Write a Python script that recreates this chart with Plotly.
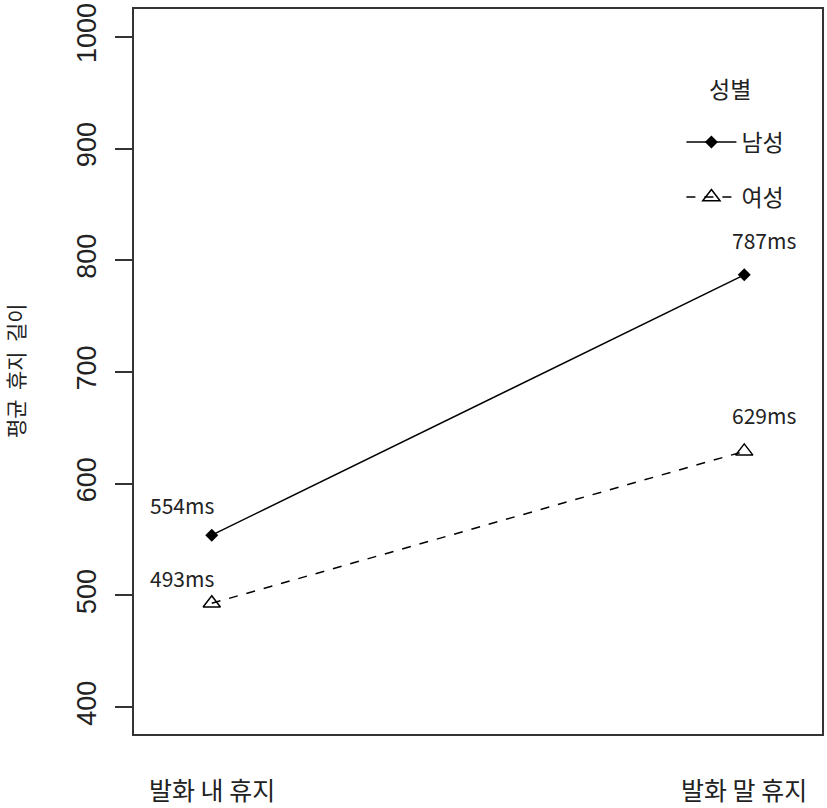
import plotly.graph_objects as go

categories = ["발화 내 휴지", "발화 말 휴지"]
groups = ["남성", "여성"]
legend_title = "성별"
y_title = "평균  휴지  길이"
male = [554, 787]
female = [493, 629]
male_labels = ["554ms", "787ms"]
female_labels = ["493ms", "629ms"]
yticks = [400, 500, 600, 700, 800, 900, 1000]

xpos = [1, 2]
KR = "Noto Sans CJK KR"
NUM = "Liberation Sans"

fig = go.Figure()
fig.add_trace(go.Scatter(
    x=xpos, y=male, mode="lines+markers", name=groups[0], legendgroup="m",
    line=dict(color="black", width=1.5, dash="solid"),
    marker=dict(symbol="diamond", size=10, color="black"),
))
fig.add_trace(go.Scatter(
    x=xpos, y=female, mode="lines+markers", name=groups[1], legendgroup="f",
    line=dict(color="black", width=1.5, dash="dash"),
    marker=dict(symbol="triangle-up-open", size=15, color="black", line=dict(width=1.5)),
))

ann = []
for xi, yv, t in zip(xpos, male, male_labels):
    ann.append(dict(x=xi - 0.056 if xi == 1 else xi + 0.038, y=yv + 27 if xi == 1 else yv + 31,
                    text=t, showarrow=False, font=dict(family=KR, size=21, color="#222")))
for xi, yv, t in zip(xpos, female, female_labels):
    ann.append(dict(x=xi - 0.056 if xi == 1 else xi + 0.038, y=yv + 33 if xi == 2 else yv + 23,
                    text=t, showarrow=False, font=dict(family=KR, size=21, color="#222")))
for xi, c in zip(xpos, categories):
    ann.append(dict(x=xi, y=-0.0755, yref="paper", yanchor="middle", xanchor="center",
                    text=c, showarrow=False, font=dict(family=KR, size=25, color="#222")))
ann.append(dict(x=-0.174, y=0.501, xref="paper", yref="paper", xanchor="center", yanchor="middle",
                text=y_title, textangle=-90, showarrow=False,
                font=dict(family=KR, size=21, color="#222")))
ann.append(dict(x=(732 - 134) / 690, y=(734 - 87) / 726, xref="paper", yref="paper",
                xanchor="center", yanchor="middle", text=legend_title,
                showarrow=False, font=dict(family=KR, size=23, color="#222")))

fig.update_layout(
    width=827, height=808,
    margin=dict(l=134, r=3, t=8, b=74),
    paper_bgcolor="white", plot_bgcolor="white",
    showlegend=True,
    legend=dict(
        x=(683 - 134) / 690, y=0.846, xanchor="left", yanchor="top",
        bgcolor="rgba(0,0,0,0)",
        font=dict(family=KR, size=23, color="#222"),
        tracegroupgap=22, itemwidth=50,
    ),
    annotations=ann,
)
fig.update_xaxes(
    range=[0.854, 2.146], showgrid=False, zeroline=False,
    showline=True, mirror=True, linecolor="#333", linewidth=1.5,
    showticklabels=False, ticks="",
)
fig.update_yaxes(
    range=[376, 1025], tickvals=yticks, ticktext=[str(v) for v in yticks],
    showgrid=False, zeroline=False,
    showline=True, mirror=True, linecolor="#333", linewidth=1.5,
    ticks="outside", ticklen=17, tickwidth=1.5, tickcolor="#333",
    tickangle=-90, tickfont=dict(family=NUM, size=27, color="#222"),
    ticklabelstandoff=8,
)
fig.write_html("out.html")
